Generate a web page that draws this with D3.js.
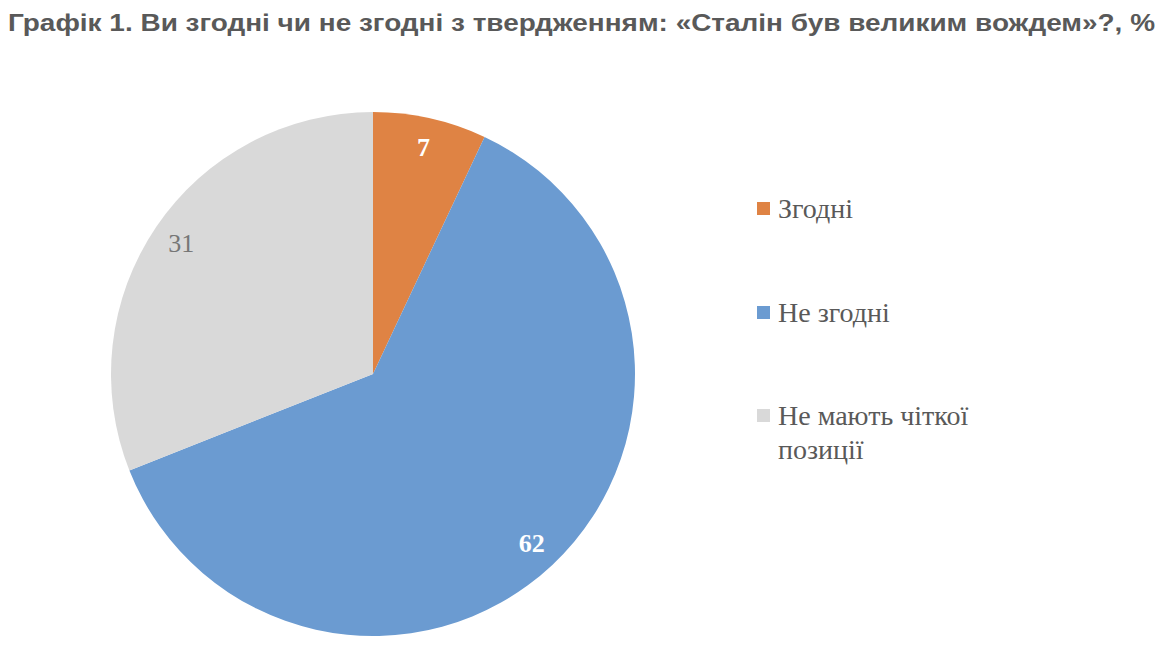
<!DOCTYPE html>
<meta charset="utf-8">
<script src="https://d3js.org/d3.v7.min.js"></script>
<style>
  body { margin: 0; background: #fff; }
</style>
<body>
<div id="canvas"></div>
<script>
  var categories = ["Згодні", "Не згодні", "Не мають чіткої позиції"];
  var values = [7, 62, 31];
  var colors = ["#df8344", "#6b9bd1", "#d9d9d9"];
  var legendLines = [["Згодні"], ["Не згодні"], ["Не мають чіткої", "позиції"]];

  var width = 1168, height = 648;
  var svg = d3.select("#canvas").append("svg")
    .attr("width", width)
    .attr("height", height);

  // titulo
  svg.append("text")
    .attr("x", 8)
    .attr("y", 31)
    .attr("textLength", 1147)
    .attr("lengthAdjust", "spacingAndGlyphs")
    .style("font-family", "'Liberation Sans', Arial, sans-serif")
    .style("font-weight", "bold")
    .style("font-size", "23px")
    .style("fill", "#595959")
    .text("Графік 1. Ви згодні чи не згодні з твердженням: «Сталін був великим вождем»?, %");

  var radius = 262;
  var g = svg.append("g").attr("transform", "translate(373,374)");

  var data = categories.map(function(c, i) { return {cat: c, value: values[i], color: colors[i]}; });
  var pie = d3.pie().sort(null).value(function(d) { return d.value; });
  var arc = d3.arc().innerRadius(0).outerRadius(radius);
  var labelArc = d3.arc().innerRadius(radius * 0.885).outerRadius(radius * 0.885);

  var arcs = pie(data);
  g.selectAll("path")
    .data(arcs)
    .enter().append("path")
    .attr("d", arc)
    .attr("fill", function(d) { return d.data.color; });

  g.selectAll(".lbl")
    .data(arcs)
    .enter().append("text")
    .attr("class", "lbl")
    .attr("transform", function(d) { return "translate(" + labelArc.centroid(d) + ")"; })
    .attr("text-anchor", "middle")
    .attr("dy", "0.33em")
    .style("font-family", "'Liberation Serif', 'Times New Roman', serif")
    .style("font-size", "26px")
    .style("font-weight", function(d, i) { return i < 2 ? "bold" : "normal"; })
    .style("fill", function(d, i) { return i < 2 ? "#ffffff" : "#767676"; })
    .text(function(d) { return d.data.value; });

  // legenda
  var legendY = [218, 322, 425];
  var leg = svg.append("g");
  data.forEach(function(d, i) {
    leg.append("rect")
      .attr("x", 757)
      .attr("y", legendY[i] - 16)
      .attr("width", 13)
      .attr("height", 13)
      .attr("fill", d.color);
    var t = leg.append("text")
      .attr("x", 778)
      .attr("y", legendY[i])
      .style("font-family", "'Liberation Serif', 'Times New Roman', serif")
      .style("font-size", "28px")
      .style("fill", "#595959");
    legendLines[i].forEach(function(line, j) {
      t.append("tspan")
        .attr("x", 778)
        .attr("dy", j === 0 ? 0 : 34)
        .text(line);
    });
  });
</script>
</body>
